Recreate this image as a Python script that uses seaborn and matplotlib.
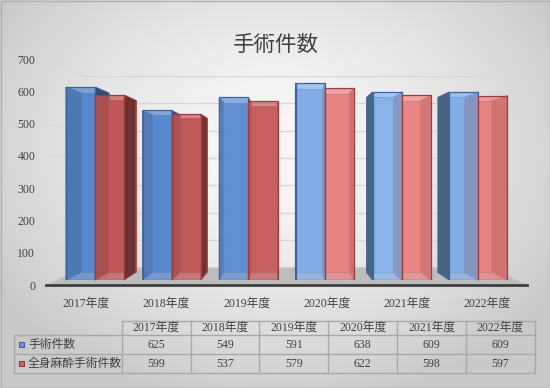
import numpy as np
import pandas as pd
import matplotlib
matplotlib.use("Agg")
import matplotlib.pyplot as plt
import matplotlib.transforms as mtransforms
import matplotlib.colors as mcolors
from matplotlib.patches import Polygon, Rectangle
from matplotlib.lines import Line2D
import seaborn as sns


# ---------------- DATA ----------------
years = ["2017年度", "2018年度", "2019年度", "2020年度", "2021年度", "2022年度"]
surgery = [625, 549, 591, 638, 609, 609]
general_anesthesia = [599, 537, 579, 622, 598, 597]
series_names = ["手術件数", "全身麻酔手術件数"]
y_ticks = [0, 100, 200, 300, 400, 500, 600, 700]
title = "手術件数"

df = pd.DataFrame({
    "年度": years * 2,
    "件数": surgery + general_anesthesia,
    "系列": [series_names[0]] * len(years) + [series_names[1]] * len(years),
})


# ---------------- STYLE ----------------
W, H = 550, 388
sns.set_theme(style="white")
plt.rcParams["font.family"] = ["Liberation Serif", "Noto Sans CJK JP"]
TXT = "#404040"

# (dark, bright, edge) per series, lighting per category
base = [("#5a8ad0", "#8cb8ef", "#3d649c"), ("#c45a5a", "#ef8a8a", "#9c3c3c")]
light = [0.0, 0.05, 0.2, 0.9, 1.0, 0.9]

# perspective: vanishing point and plane scales (image pixels)
VX, VY = 287.0, 170.0
FX0, FX1, FY0, FY1 = 46.4, 527.0, 59.0, 285.0
S_WALL, S_BARS, DEPTH = 0.847, 0.957, 0.93


def mix(c1, c2, t):
    a, b = np.array(mcolors.to_rgb(c1)), np.array(mcolors.to_rgb(c2))
    return tuple((1 - t) * a + t * b)


def shade(c, f):
    return tuple(np.array(mcolors.to_rgb(c)) * f)


def plane(s):
    return (VX + s * (FX0 - VX), VX + s * (FX1 - VX),
            VY + s * (FY0 - VY), VY + s * (FY1 - VY))


fig = plt.figure(figsize=(W / 100, H / 100), dpi=100)
# image-pixel coords, y down
px = mtransforms.Affine2D().scale(1 / W, -1 / H).translate(0, 1) + fig.transFigure


def add_ax(x0, x1, ytop, ybot):
    a = fig.add_axes([x0 / W, 1 - ybot / H, (x1 - x0) / W, (ybot - ytop) / H])
    a.set_facecolor("none")
    return a


# ---------------- BACKGROUND ----------------
bg = fig.add_axes([0, 0, 1, 1])
yy, xx = np.mgrid[0:H, 0:W]
d = np.sqrt(((xx - 275) / 330.0) ** 2 + ((yy - 150) / 260.0) ** 2)
t = np.clip(d, 0, 1) ** 1.6
c_in, c_out = np.array(mcolors.to_rgb("#f8f8f8")), np.array(mcolors.to_rgb("#c9c9c9"))
img = (1 - t)[..., None] * c_in + t[..., None] * c_out
bg.imshow(img, extent=[0, 1, 0, 1], aspect="auto", origin="upper")
bg.axis("off")
bg.add_patch(Rectangle((0.5, 0.5), W - 1, H - 1, transform=px, fill=False,
                       edgecolor="#b0b0b0", lw=1))


# ---------------- BACK WALL + FLOOR ----------------
wx0, wx1, wy0, wy1 = plane(S_WALL)
ax_wall = add_ax(wx0, wx1, wy0, wy1)
ax_wall.set_xlim(0, 1)
ax_wall.set_ylim(0, 700)
ax_wall.axis("off")
for v in y_ticks[1:]:
    ax_wall.axhline(v, color="#d6d6d6", lw=1, zorder=1)
ax_wall.add_patch(Polygon([(FX0, FY1), (FX1, FY1), (wx1, wy1), (wx0, wy1)],
                          closed=True, transform=px, facecolor="#bdbdbd",
                          edgecolor="none", zorder=2, clip_on=False))


# ---------------- BARS ----------------
bx0_, bx1_, by0_, by1_ = plane(S_BARS)
ax = add_ax(bx0_, bx1_, by0_, by1_)
sns.barplot(data=df, x="年度", y="件数", hue="系列", hue_order=series_names,
            palette=[b[1] for b in base], width=0.76, gap=0, saturation=1,
            errorbar=None, legend=False, ax=ax)
ax.set_xlim(-0.5, len(years) - 0.5)
ax.set_ylim(0, 700)
ax.axis("off")

to_img = ax.transData + px.inverted()
for i, cont in enumerate(ax.containers):
    dark, bright, edge = base[i]
    for k, bar in enumerate(cont):
        face = mix(dark, bright, light[k])
        x0, yb = to_img.transform((bar.get_x(), 0))
        x1, yt = to_img.transform((bar.get_x() + bar.get_width(), bar.get_height()))
        bx0, bx1 = VX + DEPTH * (x0 - VX), VX + DEPTH * (x1 - VX)
        byt, byb = VY + DEPTH * (yt - VY), VY + DEPTH * (yb - VY)
        ax.add_patch(Polygon([(bx0, byt), (bx1, byt), (bx1, byb), (bx0, byb)],
                             closed=True, transform=px, facecolor=shade(face, 0.9),
                             edgecolor=shade(edge, 1.15), lw=0.6, zorder=1, clip_on=False))
        for fx, bx in ((x0, bx0), (x1, bx1)):
            ax.add_patch(Polygon([(fx, yt), (bx, byt), (bx, byb), (fx, yb)],
                                 closed=True, transform=px, facecolor=shade(face, 0.55),
                                 edgecolor=edge, lw=0.6, zorder=2, clip_on=False))
        bar.set_facecolor((*face, 0.72))
        bar.set_edgecolor(edge)
        bar.set_linewidth(0.9)
        bar.set_zorder(3)


# ---------------- FRONT AXIS (labels) ----------------
ax_front = add_ax(FX0, FX1, FY0, FY1)
ax_front.set_xlim(-0.5, len(years) - 0.5)
ax_front.set_ylim(0, 700)
ax_front.set_xticks(range(len(years)))
ax_front.set_xticklabels(years)
ax_front.set_yticks(y_ticks)
ax_front.set_yticklabels([str(v) for v in y_ticks])
ax_front.tick_params(length=0, labelsize=8.5, labelcolor=TXT)
ax_front.tick_params(axis="y", pad=8)
ax_front.tick_params(axis="x", pad=9)
for s in ["top", "right", "left"]:
    ax_front.spines[s].set_visible(False)
ax_front.spines["bottom"].set_color("#404040")
ax_front.spines["bottom"].set_linewidth(2)

# slanted connectors from the axis to the back wall (behind the bars)
to_f = ax_front.transData + px.inverted()
to_w = ax_wall.transData + px.inverted()
for v in y_ticks[1:]:
    _, yf = to_f.transform((-0.5, v))
    _, yw = to_w.transform((0, v))
    ax_wall.add_line(Line2D([FX0, wx0], [yf, yw], transform=px, color="#d9d9d9",
                            lw=1, zorder=1, clip_on=False))


# ---------------- TITLE ----------------
fig.text(276, 44.5, title, transform=px, ha="center", va="center",
         fontsize=15.5, color=TXT, family=["Noto Sans CJK JP"])


# ---------------- DATA TABLE ----------------
TL, TC, TR = 14.0, 121.7, 535.0
rows_y = [320.7, 335.0, 354.3, 373.3]
col_w = (TR - TC) / len(years)
grid_c = "#a8a8a8"


def hline(x0, x1, y):
    fig.add_artist(Line2D([x0, x1], [y, y], transform=px, color=grid_c, lw=1))


def vline(x, y0, y1):
    fig.add_artist(Line2D([x, x], [y0, y1], transform=px, color=grid_c, lw=1))


hline(TC, TR, rows_y[0])
for y in rows_y[1:]:
    hline(TL, TR, y)
vline(TL, rows_y[1], rows_y[3])
for j in range(len(years) + 1):
    vline(TC + j * col_w, rows_y[0], rows_y[3])

for j, yr in enumerate(years):
    cx = TC + (j + 0.5) * col_w
    fig.text(cx, (rows_y[0] + rows_y[1]) / 2, yr, transform=px, ha="center",
             va="center", fontsize=8.5, color=TXT)
    for r, vals in enumerate([surgery, general_anesthesia]):
        fig.text(cx, (rows_y[r + 1] + rows_y[r + 2]) / 2, str(vals[j]), transform=px,
                 ha="center", va="center", fontsize=8.5, color=TXT)

for r, name in enumerate(series_names):
    cy = (rows_y[r + 1] + rows_y[r + 2]) / 2
    fig.add_artist(Rectangle((19.3, cy - 2.6), 5, 5, transform=px,
                             facecolor=mix(base[r][0], base[r][1], 0.3),
                             edgecolor=base[r][2], lw=0.8))
    fig.text(28, cy, name, transform=px, ha="left", va="center",
             fontsize=8.5, color=TXT, family=["Noto Sans CJK JP"])

fig.savefig("out.png", dpi=100)
plt.close(fig)
